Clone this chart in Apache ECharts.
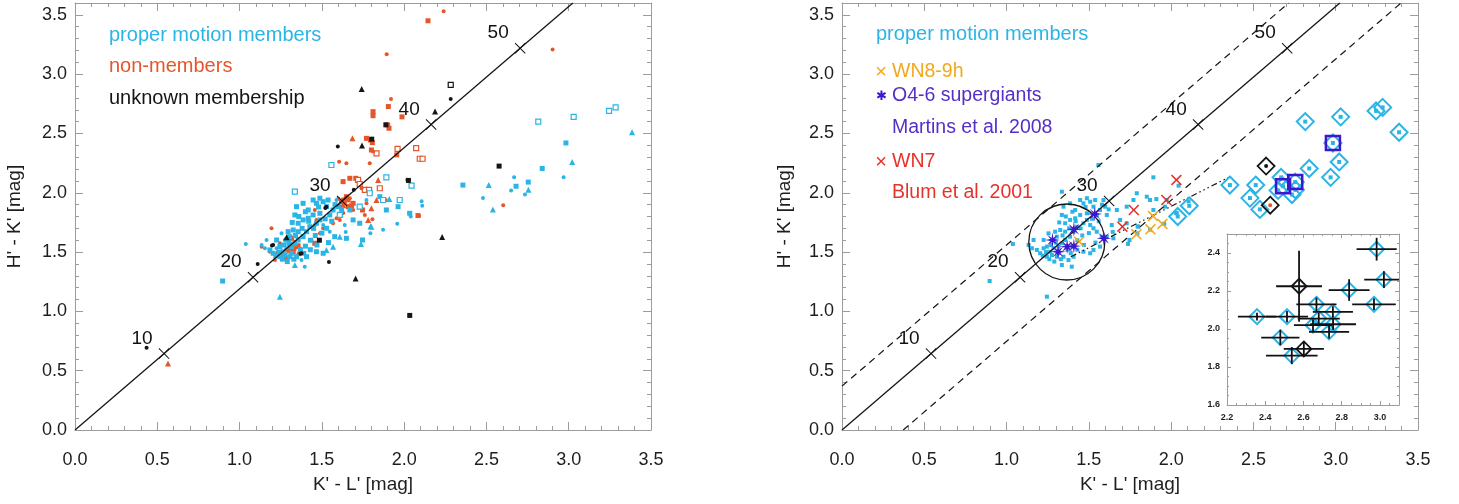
<!DOCTYPE html>
<html>
<head>
<meta charset="utf-8">
<script src="https://cdn.jsdelivr.net/npm/echarts@6/dist/echarts.min.js"></script>
<style>
  html, body { margin: 0; padding: 0; background: #fff; }
  #chart { width: 1459px; height: 504px; }
</style>
</head>
<body>
<div id="chart"></div>
<script>
// ---------- colour-colour data: K'-L' (x) vs H'-K' (y), in mag ----------

// proper motion members
const membersSquare = [
  [0.897,1.256],[1.346,1.883],[1.336,1.813],[1.386,1.911],[1.417,1.855],[1.447,1.939],[1.467,1.911],
  [1.488,1.954],[1.508,1.925],[1.538,1.939],[1.528,1.883],[1.568,1.855],[1.599,1.883],[1.548,1.813],
  [1.488,1.827],[1.447,1.813],[1.417,1.785],[1.386,1.771],[1.356,1.743],[1.326,1.686],[1.305,1.630],
  [1.285,1.602],[1.245,1.546],[1.265,1.503],[1.316,1.546],[1.336,1.574],[1.356,1.602],[1.386,1.630],
  [1.407,1.672],[1.427,1.714],[1.467,1.743],[1.488,1.771],[1.528,1.701],[1.578,1.630],[1.649,1.616],
  [1.690,1.771],[1.852,1.967],[1.892,1.855],[1.963,1.883],[2.034,1.827],[1.747,1.602],[1.730,1.743],
  [1.670,1.855],[1.508,1.490],[1.467,1.503],[1.407,1.461],[1.346,1.461],[1.305,1.461],[1.245,1.461],
  [1.204,1.490],[1.184,1.518],[1.225,1.602],[1.295,1.672],[1.356,1.672],
  [1.275,1.475],[1.315,1.490],[1.370,1.520],[1.400,1.550],[1.430,1.600],[1.460,1.640],[1.500,1.660],
  [1.520,1.780],[1.560,1.760],[1.450,1.700],[1.420,1.760],[1.380,1.700],[1.340,1.640],[1.300,1.580],
  [1.270,1.560],[1.240,1.500],[1.220,1.470],[1.320,1.750],[1.360,1.800],[1.400,1.840],[1.480,1.880],
  [1.580,1.900],[1.620,1.860],[1.540,1.580],[1.470,1.560],[1.430,1.520],[1.390,1.490],[1.330,1.440],
  [1.290,1.420],[1.260,1.440],
  [2.357,2.065],[2.680,2.055],[2.754,2.090],[2.839,2.205],[2.983,2.420]
];
const membersOpen = [
  [1.336,2.009],[1.558,2.234],[1.892,2.130],[1.791,1.996],[1.872,1.939],[1.973,1.939],[1.730,1.883],
  [2.045,2.060],[1.609,1.813],[2.815,2.600],[3.030,2.640],[3.245,2.690],[3.285,2.720]
];
const membersTriangle = [
  [1.245,1.124],[1.738,1.569],[1.796,1.717],[1.910,1.947],[1.609,1.630],[1.528,1.518],[1.336,1.391],
  [1.568,1.546],[1.801,1.714],[2.514,2.065],[2.539,1.860],[2.755,2.025],[3.021,2.260],[3.385,2.510]
];
const membersDot = [
  [1.038,1.568],[1.225,1.532],[1.285,1.532],[1.589,1.939],[1.771,1.939],[1.639,1.728],[1.548,1.672],
  [1.508,1.728],[1.795,1.658],[1.376,1.433],[1.396,1.377],[1.154,1.532],[1.134,1.560],[1.164,1.602],
  [1.255,1.658],[2.106,1.928],[2.030,1.830],[1.958,1.739],[1.872,1.689],[1.645,1.670],
  [2.479,1.955],[2.668,2.130],[2.650,2.020],[2.734,1.985],[2.969,2.130],[2.040,1.800],[2.110,1.890]
];

// non-members
const nonSquare = [
  [2.145,3.450],[1.811,2.684],[1.811,2.650],[1.900,2.572],[1.908,2.544],[1.771,2.459],[1.795,2.445],
  [1.807,2.423],[1.801,2.361],[1.670,2.122],[1.706,2.122],[1.629,2.094],[1.955,2.320],[2.084,1.808],
  [1.690,1.911],[1.649,1.967],[1.633,1.939],[1.619,1.925],[1.659,1.883],[1.305,1.546],[1.346,1.546],
  [1.326,1.503],[1.316,1.616],[1.457,1.574],[1.265,1.461],[1.285,1.448],[1.747,1.855],[1.904,2.727],
  [1.987,2.640],[1.300,1.510],[1.330,1.530],[1.620,1.880],[1.660,1.940],[1.680,1.890]
];
const nonOpen = [
  [2.073,2.376],[2.095,2.287],[2.112,2.287],[1.720,2.108],[1.730,2.074],[1.852,2.038],[1.761,2.024],
  [1.787,2.024],[1.832,2.333],[1.960,2.370]
];
const nonTriangle = [
  [0.565,0.560],[1.686,2.459],[1.842,2.108],[1.832,1.939],[1.629,1.897],[1.801,1.869],[1.225,1.490],
  [1.356,1.490],[1.781,1.771]
];
const nonDot = [
  [2.240,3.530],[1.894,3.167],[2.902,3.208],[1.920,2.790],[1.605,2.262],[1.649,2.249],[1.791,2.249],
  [1.811,2.347],[2.019,2.110],[1.741,2.038],[1.670,1.954],[1.771,1.911],[1.888,1.939],[1.457,1.855],
  [1.609,1.771],[1.690,1.855],[1.467,1.771],[1.457,1.728],[1.194,1.701],[1.134,1.546],[1.184,1.503],
  [1.245,1.574],[1.275,1.602],[1.295,1.630],[1.336,1.588],[1.366,1.532],[1.215,1.433],[1.437,1.602],
  [1.488,1.658],[1.508,1.701],[1.568,1.743],[1.589,1.785],[1.761,1.813],[1.807,1.777],[2.091,1.804],
  [2.602,1.895],[1.360,1.560],[1.310,1.570],[1.280,1.520],[1.350,1.470],[1.640,1.910],[1.600,1.950],
  [1.630,1.830],[1.570,1.860]
];

// unknown membership
const unkSquare = [[2.026,2.104],[2.577,2.225],[2.034,0.966],[1.485,1.600],[1.889,2.573],[1.803,2.452]];
const unkOpen = [[2.283,2.909]];
const unkTriangle = [[1.742,2.875],[2.188,2.685],[1.744,2.399],[2.231,1.628],[1.705,1.277],[1.286,1.625]];
const unkDot = [
  [2.283,2.790],[1.597,2.390],[1.543,1.417],[1.370,1.487],[1.110,1.400],[1.197,1.555],[1.521,1.871],
  [1.694,2.026],[0.435,0.694],[1.528,1.883],[1.376,1.490],[1.204,1.560]
];

// red stars (large K'-L'): [x, y, xErr, yErr]
const redMemberStars = [
  [2.357,2.065,0.100,0.020],[2.514,2.065,0.110,0.030],[2.479,1.955,0.100,0.040],[2.539,1.860,0.135,0.045],
  [2.668,2.130,0.105,0.035],[2.680,2.055,0.110,0.030],[2.650,2.020,0.100,0.030],[2.755,2.025,0.120,0.030],
  [2.734,1.985,0.105,0.035],[2.754,2.090,0.105,0.030],[2.839,2.205,0.107,0.057],[2.983,2.420,0.105,0.060],
  [3.021,2.260,0.103,0.044],[2.969,2.130,0.114,0.030],
  [2.040,1.800,0,0],[2.110,1.890,0,0],[2.815,2.600,0,0],[3.030,2.640,0,0],[3.245,2.690,0,0],
  [3.285,2.720,0,0],[3.385,2.510,0,0]
];
const redNonMemberStars = [[2.602,1.895,0.105,0.035]];
const redUnknownStars = [[2.577,2.225,0.120,0.187]];
const martinsStars = [[2.680,2.055],[2.754,2.090],[2.983,2.420]];

// spectroscopically classified stars
const wn89h = [[1.441,1.588],[1.789,1.650],[1.874,1.692],[1.890,1.804],[1.947,1.737]];
const o46sg = [[1.536,1.821],[1.409,1.692],[1.279,1.602],[1.313,1.503],[1.368,1.546],[1.409,1.551],[1.591,1.616]];
const wn7 = [[2.032,2.108],[1.971,1.939],[1.773,1.855],[1.704,1.714]];

// reddening vector with A_V marks, band edges, cluster locus
const reddeningLine = [[0,0],[3.025,3.6]];
const reddeningMarks = [[0.541,0.644],[1.082,1.288],[1.623,1.931],[2.164,2.575],[2.705,3.219]];
const reddeningLabels = ['10','20','30','40','50'];
const upperBand = [[0,0.37],[2.714,3.6]];
const lowerBand = [[0.372,0],[3.397,3.6]];
const excessTrack = [[1.39,1.46],[2.35,2.13]];
const clusterCircle = [[1.366,1.585]];

// axis ticks
const mainTicks = { min: 0, maxX: 3.5, maxY: 3.6, major: 0.5, minor: 0.1 };
const insetTicksX = { min: 2.2, max: 3.1, major: 0.2, minor: 0.05 };
const insetTicksY = { min: 1.6, max: 2.5, major: 0.2, minor: 0.05 };

// ---------- styling ----------
const FONT = '"Liberation Sans", Arial, Helvetica, sans-serif';
const CYAN = '#2bb4e6';
const ORANGE = '#e5562a';
const BLACK = '#151515';
const YELLOW = '#f0a91e';
const PURPLE = '#3d17cf';
const PURPLE_TEXT = '#5530c4';
const RED = '#e5322b';
const FRAME = '#9c9c9c';
const CLEAR = 'rgba(255,255,255,0)';

const X_THICK = 'path://M2,0 L10,8 L18,0 L20,2 L12,10 L20,18 L18,20 L10,12 L2,20 L0,18 L8,10 L0,2 Z';
const X_THIN = 'path://M1.3,0 L10,8.7 L18.7,0 L20,1.3 L11.3,10 L20,18.7 L18.7,20 L10,11.3 L1.3,20 L0,18.7 L8.7,10 L0,1.3 Z';
const STAR8 = 'path://M20,10 L12.8,11.2 L17.07,17.07 L11.2,12.8 L10,20 L8.8,12.8 L2.93,17.07 L7.2,11.2 L0,10 L7.2,8.8 L2.93,2.93 L8.8,7.2 L10,0 L11.2,7.2 L17.07,2.93 L12.8,8.8 Z';

const grids = [
  { left: 75, top: 3, width: 576, height: 427 },
  { left: 842, top: 3, width: 576, height: 427 },
  { left: 1227, top: 234, width: 172, height: 171 }
];

function isMultiple(v, step) {
  const r = v / step;
  return Math.abs(r - Math.round(r)) < 1e-6;
}

const xAxes = [];
const yAxes = [];

// each side gets a minor-tick axis (with the frame line) and a major-tick axis
function addSide(list, grid, position, min, max, minor, major, o) {
  list.push({
    type: 'value', gridIndex: grid, position, min, max, interval: minor,
    axisLine: { show: true, onZero: false, lineStyle: { color: FRAME, width: 1 } },
    axisTick: { show: true, inside: true, length: o.minorLen, lineStyle: { color: FRAME, width: 1 } },
    axisLabel: o.labels ? {
      show: true, margin: o.margin, fontFamily: FONT, fontSize: o.fontSize, color: '#1e1e1e',
      fontWeight: o.bold ? 'bold' : 'normal',
      formatter: v => isMultiple(v, major) ? v.toFixed(1) : ''
    } : { show: false },
    splitLine: { show: false },
    name: o.name || '', nameLocation: 'middle', nameGap: o.nameGap || 0,
    nameTextStyle: { fontFamily: FONT, fontSize: 19, color: '#1e1e1e' }
  });
  list.push({
    type: 'value', gridIndex: grid, position, min, max, interval: major,
    axisLine: { show: false, onZero: false },
    axisTick: { show: true, inside: true, length: o.majorLen, lineStyle: { color: FRAME, width: 1 } },
    axisLabel: { show: false }, splitLine: { show: false }
  });
}

// main panels
[0, 1].forEach(g => {
  const yNameGap = g === 0 ? 51 : 48;
  addSide(xAxes, g, 'bottom', mainTicks.min, mainTicks.maxX, mainTicks.minor, mainTicks.major,
    { labels: true, margin: 21, fontSize: 18, minorLen: 4, majorLen: 8, name: "K' - L' [mag]", nameGap: 45 });
  addSide(xAxes, g, 'top', mainTicks.min, mainTicks.maxX, mainTicks.minor, mainTicks.major,
    { labels: false, minorLen: 4, majorLen: 8 });
  addSide(yAxes, g, 'left', mainTicks.min, mainTicks.maxY, mainTicks.minor, mainTicks.major,
    { labels: true, margin: 8, fontSize: 18, minorLen: 4, majorLen: 8, name: "H' - K' [mag]", nameGap: yNameGap });
  addSide(yAxes, g, 'right', mainTicks.min, mainTicks.maxY, mainTicks.minor, mainTicks.major,
    { labels: false, minorLen: 4, majorLen: 8 });
});
// inset
addSide(xAxes, 2, 'bottom', insetTicksX.min, insetTicksX.max, insetTicksX.minor, insetTicksX.major,
  { labels: true, margin: 8, fontSize: 9, bold: true, minorLen: 2, majorLen: 4 });
addSide(xAxes, 2, 'top', insetTicksX.min, insetTicksX.max, insetTicksX.minor, insetTicksX.major,
  { labels: false, minorLen: 2, majorLen: 4 });
addSide(yAxes, 2, 'left', insetTicksY.min, insetTicksY.max, insetTicksY.minor, insetTicksY.major,
  { labels: true, margin: 7, fontSize: 9, bold: true, minorLen: 2, majorLen: 4 });
addSide(yAxes, 2, 'right', insetTicksY.min, insetTicksY.max, insetTicksY.minor, insetTicksY.major,
  { labels: false, minorLen: 2, majorLen: 4 });

const series = [];
function add(grid, s) {
  series.push(Object.assign({ xAxisIndex: grid * 4, yAxisIndex: grid * 4, silent: true, animation: false }, s));
}
function pts(grid, data, symbol, size, color, open, z) {
  add(grid, {
    type: 'scatter', data, symbol, symbolSize: size, z: z || 2,
    itemStyle: open
      ? { color: '#ffffff', borderColor: color, borderWidth: 1.2, opacity: 1 }
      : { color, opacity: 1 }
  });
}
function outline(grid, data, symbol, size, color, width, z) {
  add(grid, {
    type: 'scatter', data, symbol, symbolSize: size, z: z, clip: true,
    itemStyle: { color: CLEAR, borderColor: color, borderWidth: width, opacity: 1 }
  });
}
function line(grid, data, type, width) {
  add(grid, {
    type: 'line', data, showSymbol: false, symbol: 'none', z: 3,
    lineStyle: { color: BLACK, width: width || 1.2, type: type || 'solid' }
  });
}
function reddening(grid) {
  line(grid, reddeningLine, 'solid', 1.3);
  add(grid, {
    type: 'scatter', data: reddeningMarks, symbol: X_THIN, symbolSize: 11, z: 4,
    itemStyle: { color: BLACK, opacity: 1 },
    label: {
      show: true, position: 'inside', offset: [-22, -15],
      formatter: p => reddeningLabels[p.dataIndex],
      fontFamily: FONT, fontSize: 19, color: '#111111', textBorderWidth: 0
    }
  });
}

// left panel: membership classes
pts(0, nonSquare, 'rect', 5, ORANGE);
pts(0, nonOpen, 'rect', 5, ORANGE, true);
pts(0, nonTriangle, 'triangle', 6, ORANGE);
pts(0, nonDot, 'circle', 4, ORANGE);
pts(0, membersSquare, 'rect', 5, CYAN);
pts(0, membersOpen, 'rect', 5, CYAN, true);
pts(0, membersTriangle, 'triangle', 6, CYAN);
pts(0, membersDot, 'circle', 4, CYAN);
pts(0, unkSquare, 'rect', 5, BLACK);
pts(0, unkOpen, 'rect', 5, BLACK, true);
pts(0, unkTriangle, 'triangle', 6, BLACK);
pts(0, unkDot, 'circle', 4, BLACK);
reddening(0);

// right panel: members with spectral types
[membersSquare, membersOpen, membersTriangle, membersDot].forEach(d => pts(1, d, 'rect', 4, CYAN));
line(1, upperBand, [7, 5], 1.2);
line(1, lowerBand, [7, 5], 1.2);
line(1, excessTrack, [6, 3, 1.5, 3, 1.5, 3, 1.5, 3], 1.2);
reddening(1);
outline(1, clusterCircle, 'circle', 76, BLACK, 1.3, 3);
outline(1, redMemberStars, 'diamond', 17, CYAN, 2, 5);
outline(1, redNonMemberStars.concat(redUnknownStars), 'diamond', 17, BLACK, 1.8, 5);
pts(1, redNonMemberStars, 'circle', 4, ORANGE, false, 6);
pts(1, redUnknownStars, 'circle', 4, BLACK, false, 6);
outline(1, martinsStars, 'rect', 14, PURPLE, 2.5, 6);
pts(1, wn89h, X_THICK, 11, YELLOW, false, 7);
pts(1, wn7, X_THICK, 11, RED, false, 7);
pts(1, o46sg, STAR8, 15, PURPLE, false, 8);

// inset: red stars with photometric errors
function errorBars(params, api) {
  const x = api.value(0), y = api.value(1), ex = api.value(2), ey = api.value(3);
  const l = api.coord([x - ex, y]), r = api.coord([x + ex, y]);
  const t = api.coord([x, y + ey]), b = api.coord([x, y - ey]);
  const st = { stroke: '#111', lineWidth: 1.8 };
  return {
    type: 'group',
    children: [
      { type: 'line', shape: { x1: l[0], y1: l[1], x2: r[0], y2: r[1] }, style: st },
      { type: 'line', shape: { x1: t[0], y1: t[1], x2: b[0], y2: b[1] }, style: st }
    ]
  };
}
const insetMembers = redMemberStars.filter(d => d[2] > 0);
outline(2, insetMembers, 'diamond', 15, CYAN, 2, 5);
outline(2, redNonMemberStars.concat(redUnknownStars), 'diamond', 15, BLACK, 1.8, 5);
add(2, {
  type: 'custom', renderItem: errorBars, clip: true, z: 6,
  dimensions: ['x', 'y', 'ex', 'ey'], encode: { x: 0, y: 1 },
  data: insetMembers.concat(redNonMemberStars, redUnknownStars)
});

// ---------- text keys ----------
function txt(x, y, text, fill, size, align) {
  return {
    type: 'text', x, y, silent: true, z: 100,
    style: { text, fill, font: (size || 20) + 'px ' + FONT, verticalAlign: 'middle', align: align || 'left' }
  };
}
const graphic = [
  txt(109, 35, 'proper motion members', CYAN),
  txt(109, 66, 'non-members', ORANGE),
  txt(109, 98, 'unknown membership', BLACK),
  txt(876, 34, 'proper motion members', CYAN),
  txt(881, 72, '\u00d7', YELLOW, 20, 'center'),
  txt(892, 72, 'WN8-9h', YELLOW, 19.5),
  txt(881, 96, '\u2731', PURPLE, 13, 'center'),
  txt(892, 96, 'O4-6 supergiants', PURPLE_TEXT, 19.5),
  txt(892, 128, 'Martins et al. 2008', PURPLE_TEXT, 19.5),
  txt(881, 162, '\u00d7', RED, 20, 'center'),
  txt(892, 162, 'WN7', RED, 19.5),
  txt(892, 193, 'Blum et al. 2001', RED, 19.5)
];

const chart = echarts.init(document.getElementById('chart'), null, { renderer: 'canvas' });
chart.setOption({
  animation: false,
  backgroundColor: '#ffffff',
  grid: grids.map(g => Object.assign({ containLabel: false, outerBoundsMode: 'none' }, g)),
  xAxis: xAxes,
  yAxis: yAxes,
  series,
  graphic
});
</script>
</body>
</html>
